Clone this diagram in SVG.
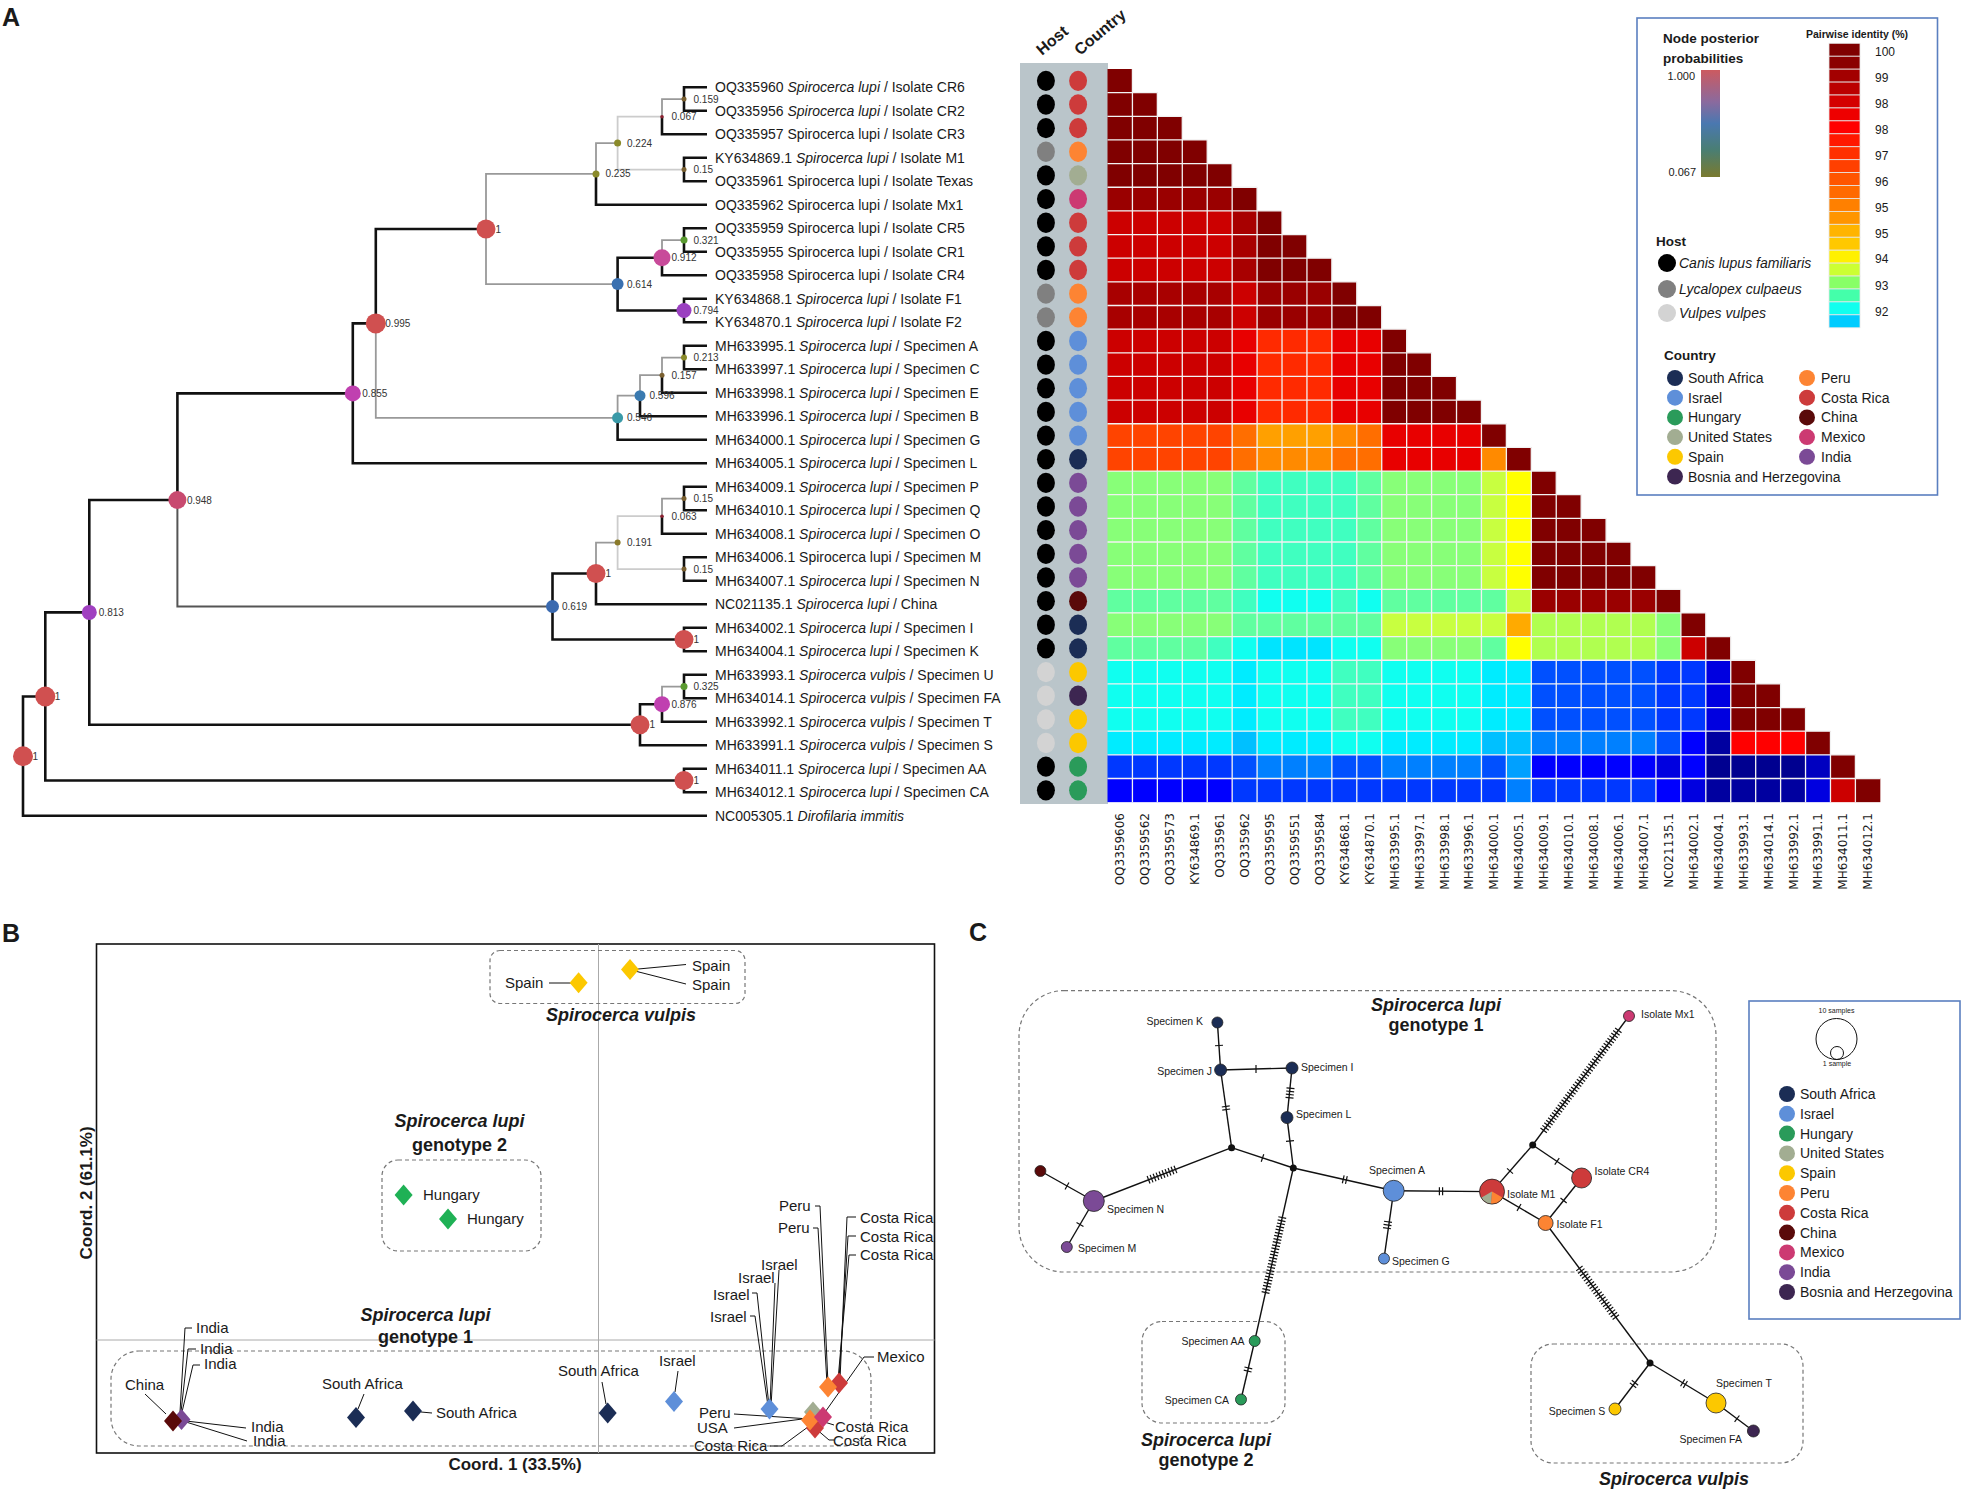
<svg xmlns="http://www.w3.org/2000/svg" width="1969" height="1496" viewBox="0 0 1969 1496">
<defs>
<style>
text{font-family:"Liberation Sans",Arial,sans-serif;fill:#1a1a1a}
.pl{font-size:25px;font-weight:bold}
.lf{font-size:14px}
.it{font-style:italic}
.nl{font-size:10px;fill:#333}
.bk{fill:none;stroke:#111;stroke-width:2.6}
.gy{fill:none;stroke:#999;stroke-width:1.8}
.lg{fill:none;stroke:#ccc;stroke-width:1.8}
.dg{fill:none;stroke:#555;stroke-width:2}
.cl{font-family:"DejaVu Sans",sans-serif;font-size:12px;text-anchor:end}
.hdr{font-size:16px;font-weight:bold}
.grid{fill:none;stroke:#f2f2f2;stroke-width:1.3}
.ha{fill:#800000}.hb{fill:#9a0000}.hc{fill:#a80000}.hd{fill:#cc0000}.he{fill:#e80000}.hf{fill:#ff0000}.hg{fill:#ff2a00}.hh{fill:#ff4400}.hi{fill:#ff6e00}.hj{fill:#ff8a00}.hk{fill:#ffa000}.hl{fill:#ffaa00}.hm{fill:#ffff00}.hn{fill:#c8ff40}.ho{fill:#b0ff50}.hp{fill:#88ff78}.hq{fill:#60ffa0}.hr{fill:#40ffc0}.hs{fill:#10fff0}.ht{fill:#00ecff}.hu{fill:#00c0ff}.hv{fill:#0080ff}.hw{fill:#0050ff}.hx{fill:#0038ff}.hy{fill:#0000ff}.hz{fill:#0000e0}.hN{fill:#0000a0}.hM{fill:#000090}.hZ{fill:#0000c0}
.k0{fill:#000}.k1{fill:#808080}.k2{fill:#d3d3d3}
.cr{fill:#cd3b3b}.pe{fill:#fd8433}.us{fill:#a2ad92}.mx{fill:#cc3a72}.il{fill:#5e8fd9}.za{fill:#1b2d55}.in{fill:#7b4a96}.cn{fill:#5a0a0a}.es{fill:#fcc800}.ba{fill:#3d2651}.hun{fill:#2a9b5a}
.lt{font-size:14px}
.lb{font-size:13.5px;font-weight:bold}
.box{fill:none;stroke:#5a7fc0;stroke-width:1.6}
.dash{fill:none;stroke:#777;stroke-width:1.2;stroke-dasharray:4 3}
.bt{font-size:15px}
.ti{font-size:18px;font-weight:bold;text-anchor:middle}
.ld{fill:none;stroke:#111;stroke-width:1}
.ed{stroke:#111;stroke-width:1.4}
.tk{stroke:#111;stroke-width:8;stroke-dasharray:1.2 2;fill:none}
.nd{stroke:#222;stroke-width:0.8}
.ct{font-size:10.5px}
.ce{font-size:10.5px;text-anchor:end}
</style>
<path id="dm" d="M0,-10.5L9,0L0,10.5L-9,0Z"/>
<linearGradient id="pp" x1="0" y1="0" x2="0" y2="1">
<stop offset="0" stop-color="#cc5a60"/><stop offset="0.3" stop-color="#8a6a9e"/><stop offset="0.5" stop-color="#4a78b0"/><stop offset="0.75" stop-color="#4a7e72"/><stop offset="1" stop-color="#7a7a2e"/>
</linearGradient>
</defs>
<rect width="1969" height="1496" fill="#fff"/>

<!-- ================= PANEL A ================= -->
<text class="pl" x="2" y="26">A</text>

<g id="tree-branches">
<path class="bk" d="M23 756.2V696.5H45.3M23 756.2V815.8H707M45.3 696.5V612.4H89.3M45.3 696.5V780.55H684M684 780.55V768.8H707M684 780.55V792.3H707M89.3 612.4V500H177.4M89.3 612.4V724.7H640M640 724.7V704.2H662M640 724.7V745.3H707M662 704.2V721.8H707M684 686.55V674.8H707M684 686.55V698.3H707M177.4 500V393.4H352.8M552.5 606.5V573.5H596M552.5 606.5V639.55H684M684 639.55V627.8H707M684 639.55V651.3H707M596 573.5V604.3H707M662 516.2V533.8H707M684 498.55V486.8H707M684 498.55V510.3H707M684 569.05V557.3H707M684 569.05V580.8H707M352.8 393.4V323.4H375.8M352.8 393.4V463.3H707M375.8 323.4V229H486M617.6 417.8V439.8H707M640 395.7V416.3H707M662 375.2V392.8H707M684 357.55V345.8H707M684 357.55V369.3H707M596 173.95V204.8H707M662 116.7V134.3H707M684 99.05V87.3H707M684 99.05V110.8H707M684 169.55V157.8H707M684 169.55V181.3H707M617.6 284.1V257.7H662M617.6 284.1V310.55H684M662 257.7V275.3H707M684 240.05V228.3H707M684 240.05V251.8H707M684 310.55V298.8H707M684 310.55V322.3H707"/>
<path class="dg" d="M177.4 500V606.5H552.5"/>
<path class="gy" d="M662 704.2V686.55H684M596 573.5V542.6H617.6M662 516.2V498.55H684M375.8 323.4V417.8H617.6M617.6 417.8V395.7H640M640 395.7V375.2H662M662 375.2V357.55H684M486 229V173.95H596M486 229V284.1H617.6M596 173.95V143.1H617.6M662 116.7V99.05H684M662 257.7V240.05H684"/>
<path class="lg" d="M617.6 542.6V516.2H662M617.6 542.6V569.05H684M617.6 143.1V116.7H662M617.6 143.1V169.55H684"/>
</g>

<g id="tree-nodes">
<circle cx="684" cy="99.05" r="2.5" fill="#7a6030"/><text class="nl" x="693.5" y="102.5">0.159</text>
<circle cx="662" cy="116.7" r="1.8" fill="#8a2030"/><text class="nl" x="671.5" y="120.2">0.067</text>
<circle cx="684" cy="169.55" r="2.5" fill="#7a6030"/><text class="nl" x="693.5" y="173">0.15</text>
<circle cx="617.6" cy="143.1" r="3.5" fill="#8a8a2a"/><text class="nl" x="627" y="146.6">0.224</text>
<circle cx="596" cy="173.95" r="3.5" fill="#8a8a2a"/><text class="nl" x="605.5" y="177.4">0.235</text>
<circle cx="684" cy="240.05" r="3.5" fill="#5a9a30"/><text class="nl" x="693.5" y="243.5">0.321</text>
<circle cx="662" cy="257.7" r="8.5" fill="#c84a9a"/><text class="nl" x="671.5" y="261.2">0.912</text>
<circle cx="684" cy="310.55" r="7.5" fill="#9a40c0"/><text class="nl" x="693.5" y="314">0.794</text>
<circle cx="617.6" cy="284.1" r="6" fill="#3a70b0"/><text class="nl" x="627" y="287.6">0.614</text>
<circle cx="486" cy="229" r="9.5" fill="#d05050"/><text class="nl" x="495.5" y="232.5">1</text>
<circle cx="684" cy="357.55" r="3" fill="#8a8a2a"/><text class="nl" x="693.5" y="361">0.213</text>
<circle cx="662" cy="375.2" r="2.5" fill="#7a6030"/><text class="nl" x="671.5" y="378.7">0.157</text>
<circle cx="640" cy="395.7" r="5.5" fill="#3a7ab0"/><text class="nl" x="649.5" y="399.2">0.596</text>
<circle cx="617.6" cy="417.8" r="5.5" fill="#3a9aa8"/><text class="nl" x="627" y="421.3">0.546</text>
<circle cx="375.8" cy="323.4" r="10" fill="#d05050"/><text class="nl" x="385.3" y="326.9">0.995</text>
<circle cx="352.8" cy="393.4" r="8" fill="#c040b0"/><text class="nl" x="362.3" y="396.9">0.855</text>
<circle cx="684" cy="498.55" r="2.5" fill="#7a6030"/><text class="nl" x="693.5" y="502">0.15</text>
<circle cx="662" cy="516.2" r="1.8" fill="#8a2030"/><text class="nl" x="671.5" y="519.7">0.063</text>
<circle cx="684" cy="569.05" r="2.5" fill="#7a6030"/><text class="nl" x="693.5" y="572.5">0.15</text>
<circle cx="617.6" cy="542.6" r="3" fill="#8a7a2a"/><text class="nl" x="627" y="546.1">0.191</text>
<circle cx="596" cy="573.5" r="9.5" fill="#d05050"/><text class="nl" x="605.5" y="577">1</text>
<circle cx="684" cy="639.55" r="9.5" fill="#d05050"/><text class="nl" x="693.5" y="643">1</text>
<circle cx="552.5" cy="606.5" r="6.5" fill="#3a6ab0"/><text class="nl" x="562" y="610">0.619</text>
<circle cx="177.4" cy="500" r="9" fill="#c84a70"/><text class="nl" x="186.9" y="503.5">0.948</text>
<circle cx="684" cy="686.55" r="3.5" fill="#5a9a30"/><text class="nl" x="693.5" y="690">0.325</text>
<circle cx="662" cy="704.2" r="8" fill="#c040b0"/><text class="nl" x="671.5" y="707.7">0.876</text>
<circle cx="640" cy="724.7" r="9.5" fill="#d05050"/><text class="nl" x="649.5" y="728.2">1</text>
<circle cx="89.3" cy="612.4" r="7.5" fill="#a040c0"/><text class="nl" x="98.8" y="615.9">0.813</text>
<circle cx="684" cy="780.55" r="9.5" fill="#d05050"/><text class="nl" x="693.5" y="784">1</text>
<circle cx="45.3" cy="696.5" r="10" fill="#d05050"/><text class="nl" x="54.8" y="700">1</text>
<circle cx="23" cy="756.2" r="10" fill="#d05050"/><text class="nl" x="32.5" y="759.7">1</text>
</g>

<g id="tree-labels">
<text class="lf" x="715" y="92.3">OQ335960 <tspan class="it">Spirocerca lupi</tspan> / Isolate CR6</text>
<text class="lf" x="715" y="115.8">OQ335956 <tspan class="it">Spirocerca lupi</tspan> / Isolate CR2</text>
<text class="lf" x="715" y="139.3">OQ335957 Spirocerca lupi / Isolate CR3</text>
<text class="lf" x="715" y="162.8">KY634869.1 <tspan class="it">Spirocerca lupi</tspan> / Isolate M1</text>
<text class="lf" x="715" y="186.3">OQ335961 Spirocerca lupi / Isolate Texas</text>
<text class="lf" x="715" y="209.8">OQ335962 Spirocerca lupi / Isolate Mx1</text>
<text class="lf" x="715" y="233.3">OQ335959 Spirocerca lupi / Isolate CR5</text>
<text class="lf" x="715" y="256.8">OQ335955 Spirocerca lupi / Isolate CR1</text>
<text class="lf" x="715" y="280.3">OQ335958 Spirocerca lupi / Isolate CR4</text>
<text class="lf" x="715" y="303.8">KY634868.1 <tspan class="it">Spirocerca lupi</tspan> / Isolate F1</text>
<text class="lf" x="715" y="327.3">KY634870.1 <tspan class="it">Spirocerca lupi</tspan> / Isolate F2</text>
<text class="lf" x="715" y="350.8">MH633995.1 <tspan class="it">Spirocerca lupi</tspan> / Specimen A</text>
<text class="lf" x="715" y="374.3">MH633997.1 <tspan class="it">Spirocerca lupi</tspan> / Specimen C</text>
<text class="lf" x="715" y="397.8">MH633998.1 <tspan class="it">Spirocerca lupi</tspan> / Specimen E</text>
<text class="lf" x="715" y="421.3">MH633996.1 <tspan class="it">Spirocerca lupi</tspan> / Specimen B</text>
<text class="lf" x="715" y="444.8">MH634000.1 <tspan class="it">Spirocerca lupi</tspan> / Specimen G</text>
<text class="lf" x="715" y="468.3">MH634005.1 <tspan class="it">Spirocerca lupi</tspan> / Specimen L</text>
<text class="lf" x="715" y="491.8">MH634009.1 <tspan class="it">Spirocerca lupi</tspan> / Specimen P</text>
<text class="lf" x="715" y="515.3">MH634010.1 <tspan class="it">Spirocerca lupi</tspan> / Specimen Q</text>
<text class="lf" x="715" y="538.8">MH634008.1 <tspan class="it">Spirocerca lupi</tspan> / Specimen O</text>
<text class="lf" x="715" y="562.3">MH634006.1 Spirocerca lupi / Specimen M</text>
<text class="lf" x="715" y="585.8">MH634007.1 <tspan class="it">Spirocerca lupi</tspan> / Specimen N</text>
<text class="lf" x="715" y="609.3">NC021135.1 <tspan class="it">Spirocerca lupi</tspan> / China</text>
<text class="lf" x="715" y="632.8">MH634002.1 <tspan class="it">Spirocerca lupi</tspan> / Specimen I</text>
<text class="lf" x="715" y="656.3">MH634004.1 <tspan class="it">Spirocerca lupi</tspan> / Specimen K</text>
<text class="lf" x="715" y="679.8">MH633993.1 <tspan class="it">Spirocerca vulpis</tspan> / Specimen U</text>
<text class="lf" x="715" y="703.3">MH634014.1 <tspan class="it">Spirocerca vulpis</tspan> / Specimen FA</text>
<text class="lf" x="715" y="726.8">MH633992.1 <tspan class="it">Spirocerca vulpis</tspan> / Specimen T</text>
<text class="lf" x="715" y="750.3">MH633991.1 <tspan class="it">Spirocerca vulpis</tspan> / Specimen S</text>
<text class="lf" x="715" y="773.8">MH634011.1 <tspan class="it">Spirocerca lupi</tspan> / Specimen AA</text>
<text class="lf" x="715" y="797.3">MH634012.1 <tspan class="it">Spirocerca lupi</tspan> / Specimen CA</text>
<text class="lf" x="715" y="820.8">NC005305.1 <tspan class="it">Dirofilaria immitis</tspan></text>
</g>

<g id="host-country">
<rect x="1020" y="63" width="88" height="741" fill="#bac5ca"/>
<text class="hdr" transform="translate(1042,56) rotate(-40)">Host</text>
<text class="hdr" transform="translate(1080,56) rotate(-40)">Country</text>
</g>

<g id="heatmap" transform="translate(1107.5,69) scale(24.93,23.65)">
<g id="host-dots">
<ellipse class="k0" cx="-2.47" cy="0.5" rx=".36" ry=".43"/>
<ellipse class="k0" cx="-2.47" cy="1.5" rx=".36" ry=".43"/>
<ellipse class="k0" cx="-2.47" cy="2.5" rx=".36" ry=".43"/>
<ellipse class="k1" cx="-2.47" cy="3.5" rx=".36" ry=".43"/>
<ellipse class="k0" cx="-2.47" cy="4.5" rx=".36" ry=".43"/>
<ellipse class="k0" cx="-2.47" cy="5.5" rx=".36" ry=".43"/>
<ellipse class="k0" cx="-2.47" cy="6.5" rx=".36" ry=".43"/>
<ellipse class="k0" cx="-2.47" cy="7.5" rx=".36" ry=".43"/>
<ellipse class="k0" cx="-2.47" cy="8.5" rx=".36" ry=".43"/>
<ellipse class="k1" cx="-2.47" cy="9.5" rx=".36" ry=".43"/>
<ellipse class="k1" cx="-2.47" cy="10.5" rx=".36" ry=".43"/>
<ellipse class="k0" cx="-2.47" cy="11.5" rx=".36" ry=".43"/>
<ellipse class="k0" cx="-2.47" cy="12.5" rx=".36" ry=".43"/>
<ellipse class="k0" cx="-2.47" cy="13.5" rx=".36" ry=".43"/>
<ellipse class="k0" cx="-2.47" cy="14.5" rx=".36" ry=".43"/>
<ellipse class="k0" cx="-2.47" cy="15.5" rx=".36" ry=".43"/>
<ellipse class="k0" cx="-2.47" cy="16.5" rx=".36" ry=".43"/>
<ellipse class="k0" cx="-2.47" cy="17.5" rx=".36" ry=".43"/>
<ellipse class="k0" cx="-2.47" cy="18.5" rx=".36" ry=".43"/>
<ellipse class="k0" cx="-2.47" cy="19.5" rx=".36" ry=".43"/>
<ellipse class="k0" cx="-2.47" cy="20.5" rx=".36" ry=".43"/>
<ellipse class="k0" cx="-2.47" cy="21.5" rx=".36" ry=".43"/>
<ellipse class="k0" cx="-2.47" cy="22.5" rx=".36" ry=".43"/>
<ellipse class="k0" cx="-2.47" cy="23.5" rx=".36" ry=".43"/>
<ellipse class="k0" cx="-2.47" cy="24.5" rx=".36" ry=".43"/>
<ellipse class="k2" cx="-2.47" cy="25.5" rx=".36" ry=".43"/>
<ellipse class="k2" cx="-2.47" cy="26.5" rx=".36" ry=".43"/>
<ellipse class="k2" cx="-2.47" cy="27.5" rx=".36" ry=".43"/>
<ellipse class="k2" cx="-2.47" cy="28.5" rx=".36" ry=".43"/>
<ellipse class="k0" cx="-2.47" cy="29.5" rx=".36" ry=".43"/>
<ellipse class="k0" cx="-2.47" cy="30.5" rx=".36" ry=".43"/>
</g>
<g id="country-dots">
<ellipse class="cr" cx="-1.18" cy="0.5" rx=".36" ry=".43"/>
<ellipse class="cr" cx="-1.18" cy="1.5" rx=".36" ry=".43"/>
<ellipse class="cr" cx="-1.18" cy="2.5" rx=".36" ry=".43"/>
<ellipse class="pe" cx="-1.18" cy="3.5" rx=".36" ry=".43"/>
<ellipse class="us" cx="-1.18" cy="4.5" rx=".36" ry=".43"/>
<ellipse class="mx" cx="-1.18" cy="5.5" rx=".36" ry=".43"/>
<ellipse class="cr" cx="-1.18" cy="6.5" rx=".36" ry=".43"/>
<ellipse class="cr" cx="-1.18" cy="7.5" rx=".36" ry=".43"/>
<ellipse class="cr" cx="-1.18" cy="8.5" rx=".36" ry=".43"/>
<ellipse class="pe" cx="-1.18" cy="9.5" rx=".36" ry=".43"/>
<ellipse class="pe" cx="-1.18" cy="10.5" rx=".36" ry=".43"/>
<ellipse class="il" cx="-1.18" cy="11.5" rx=".36" ry=".43"/>
<ellipse class="il" cx="-1.18" cy="12.5" rx=".36" ry=".43"/>
<ellipse class="il" cx="-1.18" cy="13.5" rx=".36" ry=".43"/>
<ellipse class="il" cx="-1.18" cy="14.5" rx=".36" ry=".43"/>
<ellipse class="il" cx="-1.18" cy="15.5" rx=".36" ry=".43"/>
<ellipse class="za" cx="-1.18" cy="16.5" rx=".36" ry=".43"/>
<ellipse class="in" cx="-1.18" cy="17.5" rx=".36" ry=".43"/>
<ellipse class="in" cx="-1.18" cy="18.5" rx=".36" ry=".43"/>
<ellipse class="in" cx="-1.18" cy="19.5" rx=".36" ry=".43"/>
<ellipse class="in" cx="-1.18" cy="20.5" rx=".36" ry=".43"/>
<ellipse class="in" cx="-1.18" cy="21.5" rx=".36" ry=".43"/>
<ellipse class="cn" cx="-1.18" cy="22.5" rx=".36" ry=".43"/>
<ellipse class="za" cx="-1.18" cy="23.5" rx=".36" ry=".43"/>
<ellipse class="za" cx="-1.18" cy="24.5" rx=".36" ry=".43"/>
<ellipse class="es" cx="-1.18" cy="25.5" rx=".36" ry=".43"/>
<ellipse class="ba" cx="-1.18" cy="26.5" rx=".36" ry=".43"/>
<ellipse class="es" cx="-1.18" cy="27.5" rx=".36" ry=".43"/>
<ellipse class="es" cx="-1.18" cy="28.5" rx=".36" ry=".43"/>
<ellipse class="hun" cx="-1.18" cy="29.5" rx=".36" ry=".43"/>
<ellipse class="hun" cx="-1.18" cy="30.5" rx=".36" ry=".43"/>
</g>
<g id="cells">
<rect class="ha" x="0" y="0" width="1" height="1"/>
<rect class="ha" x="0" y="1" width="2" height="1"/>
<rect class="ha" x="0" y="2" width="3" height="1"/>
<rect class="ha" x="0" y="3" width="4" height="1"/>
<rect class="ha" x="0" y="4" width="5" height="1"/>
<rect class="hb" x="0" y="5" width="5" height="1"/><rect class="ha" x="5" y="5" width="1" height="1"/>
<rect class="hd" x="0" y="6" width="5" height="3"/><rect class="hc" x="5" y="6" width="1" height="3"/>
<rect class="ha" x="6" y="6" width="1" height="1"/><rect class="ha" x="6" y="7" width="2" height="1"/><rect class="ha" x="6" y="8" width="3" height="1"/>
<rect class="hc" x="0" y="9" width="5" height="2"/><rect class="hd" x="5" y="9" width="1" height="2"/><rect class="hb" x="6" y="9" width="3" height="2"/>
<rect class="ha" x="9" y="9" width="1" height="1"/><rect class="ha" x="9" y="10" width="2" height="1"/>
<rect class="hd" x="0" y="11" width="5" height="4"/><rect class="he" x="5" y="11" width="1" height="4"/><rect class="hg" x="6" y="11" width="3" height="4"/><rect class="he" x="9" y="11" width="2" height="4"/>
<rect class="ha" x="11" y="11" width="1" height="1"/><rect class="ha" x="11" y="12" width="2" height="1"/><rect class="ha" x="11" y="13" width="3" height="1"/><rect class="ha" x="11" y="14" width="4" height="1"/>
<rect class="hh" x="0" y="15" width="5" height="1"/><rect class="hi" x="5" y="15" width="1" height="1"/><rect class="hk" x="6" y="15" width="3" height="1"/><rect class="hj" x="9" y="15" width="1" height="1"/><rect class="hi" x="10" y="15" width="1" height="1"/><rect class="he" x="11" y="15" width="4" height="1"/><rect class="ha" x="15" y="15" width="1" height="1"/>
<rect class="hh" x="0" y="16" width="5" height="1"/><rect class="hi" x="5" y="16" width="1" height="1"/><rect class="hj" x="6" y="16" width="3" height="1"/><rect class="hi" x="9" y="16" width="2" height="1"/><rect class="he" x="11" y="16" width="4" height="1"/><rect class="hj" x="15" y="16" width="1" height="1"/><rect class="ha" x="16" y="16" width="1" height="1"/>
<rect class="hp" x="0" y="17" width="5" height="5"/><rect class="hq" x="5" y="17" width="1" height="5"/><rect class="hr" x="6" y="17" width="4" height="5"/><rect class="hq" x="10" y="17" width="1" height="5"/><rect class="hp" x="11" y="17" width="4" height="5"/><rect class="hn" x="15" y="17" width="1" height="5"/><rect class="hm" x="16" y="17" width="1" height="5"/>
<rect class="ha" x="17" y="17" width="1" height="1"/><rect class="ha" x="17" y="18" width="2" height="1"/><rect class="ha" x="17" y="19" width="3" height="1"/><rect class="ha" x="17" y="20" width="4" height="1"/><rect class="ha" x="17" y="21" width="5" height="1"/>
<rect class="hq" x="0" y="22" width="5" height="1"/><rect class="hr" x="5" y="22" width="1" height="1"/><rect class="hs" x="6" y="22" width="3" height="1"/><rect class="hr" x="9" y="22" width="1" height="1"/><rect class="hs" x="10" y="22" width="1" height="1"/><rect class="hq" x="11" y="22" width="5" height="1"/><rect class="hn" x="16" y="22" width="1" height="1"/><rect class="hb" x="17" y="22" width="5" height="1"/><rect class="ha" x="22" y="22" width="1" height="1"/>
<rect class="hp" x="0" y="23" width="5" height="1"/><rect class="hq" x="5" y="23" width="6" height="1"/><rect class="hn" x="11" y="23" width="5" height="1"/><rect class="hl" x="16" y="23" width="1" height="1"/><rect class="ho" x="17" y="23" width="5" height="1"/><rect class="hp" x="22" y="23" width="1" height="1"/><rect class="ha" x="23" y="23" width="1" height="1"/>
<rect class="hq" x="0" y="24" width="4" height="1"/><rect class="hr" x="4" y="24" width="1" height="1"/><rect class="hs" x="5" y="24" width="1" height="1"/><rect class="hu" x="6" y="24" width="3" height="1" style="fill:#00e4ff"/><rect class="hs" x="9" y="24" width="2" height="1"/><rect class="hp" x="11" y="24" width="4" height="1"/><rect class="hq" x="15" y="24" width="1" height="1"/><rect class="hm" x="16" y="24" width="1" height="1"/><rect class="ho" x="17" y="24" width="5" height="1"/><rect class="hp" x="22" y="24" width="1" height="1"/><rect class="hd" x="23" y="24" width="1" height="1"/><rect class="ha" x="24" y="24" width="1" height="1"/>
<rect class="hs" x="0" y="25" width="5" height="3"/><rect class="ht" x="5" y="25" width="1" height="3"/><rect class="hs" x="6" y="25" width="3" height="3"/><rect class="hr" x="9" y="25" width="2" height="3"/><rect class="hs" x="11" y="25" width="4" height="3"/><rect class="ht" x="15" y="25" width="2" height="3"/><rect class="hw" x="17" y="25" width="5" height="3"/><rect class="hx" x="22" y="25" width="2" height="3"/><rect class="hz" x="24" y="25" width="1" height="3"/>
<rect class="ha" x="25" y="25" width="1" height="1"/><rect class="ha" x="25" y="26" width="2" height="1"/><rect class="ha" x="25" y="27" width="3" height="1"/>
<rect class="ht" x="0" y="28" width="5" height="1"/><rect class="hu" x="5" y="28" width="1" height="1"/><rect class="ht" x="6" y="28" width="3" height="1"/><rect class="hs" x="9" y="28" width="2" height="1"/><rect class="ht" x="11" y="28" width="4" height="1"/><rect class="hu" x="15" y="28" width="2" height="1"/><rect class="hv" x="17" y="28" width="5" height="1"/><rect class="hw" x="22" y="28" width="1" height="1"/><rect class="hy" x="23" y="28" width="1" height="1"/><rect class="hN" x="24" y="28" width="1" height="1"/><rect class="hf" x="25" y="28" width="3" height="1"/><rect class="ha" x="28" y="28" width="1" height="1"/>
<rect class="hx" x="0" y="29" width="5" height="1"/><rect class="hw" x="5" y="29" width="1" height="1"/><rect class="hv" x="6" y="29" width="3" height="1"/><rect class="hw" x="9" y="29" width="2" height="1"/><rect class="hv" x="11" y="29" width="4" height="1"/><rect class="hw" x="15" y="29" width="1" height="1"/><rect class="hu" x="16" y="29" width="1" height="1" style="fill:#00a0ff"/><rect class="hy" x="17" y="29" width="5" height="1"/><rect class="hz" x="22" y="29" width="1" height="1"/><rect class="hy" x="23" y="29" width="1" height="1"/><rect class="hM" x="24" y="29" width="4" height="1"/><rect class="hZ" x="28" y="29" width="1" height="1"/><rect class="ha" x="29" y="29" width="1" height="1"/>
<rect class="hy" x="0" y="30" width="5" height="1"/><rect class="hx" x="5" y="30" width="11" height="1"/><rect class="hv" x="16" y="30" width="1" height="1"/><rect class="hx" x="17" y="30" width="5" height="1"/><rect class="hy" x="22" y="30" width="1" height="1"/><rect class="hz" x="23" y="30" width="1" height="1"/><rect class="hN" x="24" y="30" width="4" height="1"/><rect class="hz" x="28" y="30" width="1" height="1"/><rect class="hd" x="29" y="30" width="1" height="1"/><rect class="ha" x="30" y="30" width="1" height="1"/>
</g>
<path class="grid" vector-effect="non-scaling-stroke" d="M1 0V31M2 1V31M3 2V31M4 3V31M5 4V31M6 5V31M7 6V31M8 7V31M9 8V31M10 9V31M11 10V31M12 11V31M13 12V31M14 13V31M15 14V31M16 15V31M17 16V31M18 17V31M19 18V31M20 19V31M21 20V31M22 21V31M23 22V31M24 23V31M25 24V31M26 25V31M27 26V31M28 27V31M29 28V31M30 29V31M0 1H2M0 2H3M0 3H4M0 4H5M0 5H6M0 6H7M0 7H8M0 8H9M0 9H10M0 10H11M0 11H12M0 12H13M0 13H14M0 14H15M0 15H16M0 16H17M0 17H18M0 18H19M0 19H20M0 20H21M0 21H22M0 22H23M0 23H24M0 24H25M0 25H26M0 26H27M0 27H28M0 28H29M0 29H30M0 30H31"/>
</g>

<g id="column-labels">
<text class="cl" transform="translate(1124.4,813) rotate(-90)">OQ3359606</text>
<text class="cl" transform="translate(1149.3,813) rotate(-90)">OQ3359562</text>
<text class="cl" transform="translate(1174.3,813) rotate(-90)">OQ3359573</text>
<text class="cl" transform="translate(1199.2,813) rotate(-90)">KY634869.1</text>
<text class="cl" transform="translate(1224.1,813) rotate(-90)">OQ335961</text>
<text class="cl" transform="translate(1249.1,813) rotate(-90)">OQ335962</text>
<text class="cl" transform="translate(1274,813) rotate(-90)">OQ3359595</text>
<text class="cl" transform="translate(1298.9,813) rotate(-90)">OQ3359551</text>
<text class="cl" transform="translate(1323.8,813) rotate(-90)">OQ3359584</text>
<text class="cl" transform="translate(1348.8,813) rotate(-90)">KY634868.1</text>
<text class="cl" transform="translate(1373.7,813) rotate(-90)">KY634870.1</text>
<text class="cl" transform="translate(1398.6,813) rotate(-90)">MH633995.1</text>
<text class="cl" transform="translate(1423.6,813) rotate(-90)">MH633997.1</text>
<text class="cl" transform="translate(1448.5,813) rotate(-90)">MH633998.1</text>
<text class="cl" transform="translate(1473.4,813) rotate(-90)">MH633996.1</text>
<text class="cl" transform="translate(1498.4,813) rotate(-90)">MH634000.1</text>
<text class="cl" transform="translate(1523.3,813) rotate(-90)">MH634005.1</text>
<text class="cl" transform="translate(1548.2,813) rotate(-90)">MH634009.1</text>
<text class="cl" transform="translate(1573.1,813) rotate(-90)">MH634010.1</text>
<text class="cl" transform="translate(1598.1,813) rotate(-90)">MH634008.1</text>
<text class="cl" transform="translate(1623,813) rotate(-90)">MH634006.1</text>
<text class="cl" transform="translate(1647.9,813) rotate(-90)">MH634007.1</text>
<text class="cl" transform="translate(1672.9,813) rotate(-90)">NC021135.1</text>
<text class="cl" transform="translate(1697.8,813) rotate(-90)">MH634002.1</text>
<text class="cl" transform="translate(1722.7,813) rotate(-90)">MH634004.1</text>
<text class="cl" transform="translate(1747.7,813) rotate(-90)">MH633993.1</text>
<text class="cl" transform="translate(1772.6,813) rotate(-90)">MH634014.1</text>
<text class="cl" transform="translate(1797.5,813) rotate(-90)">MH633992.1</text>
<text class="cl" transform="translate(1822.4,813) rotate(-90)">MH633991.1</text>
<text class="cl" transform="translate(1847.4,813) rotate(-90)">MH634011.1</text>
<text class="cl" transform="translate(1872.3,813) rotate(-90)">MH634012.1</text>
</g>

<g id="legendA">
<rect class="box" x="1637" y="18" width="300.5" height="477"/>
<text class="lb" x="1663" y="43">Node posterior</text>
<text class="lb" x="1663" y="63">probabilities</text>
<rect x="1701" y="70" width="19" height="107" fill="url(#pp)"/>
<text x="1695" y="80" font-size="11" text-anchor="end">1.000</text>
<text x="1696" y="176" font-size="11" text-anchor="end">0.067</text>
<text x="1806" y="38" font-size="10.5" font-weight="bold">Pairwise identity (%)</text>
<g stroke="#e6e6e6" stroke-width="0.8">
<rect x="1829" y="43.3" width="31" height="12.93" fill="#800000"/>
<rect x="1829" y="56.23" width="31" height="12.93" fill="#8b0000"/>
<rect x="1829" y="69.16" width="31" height="12.93" fill="#a30000"/>
<rect x="1829" y="82.09" width="31" height="12.93" fill="#bb0000"/>
<rect x="1829" y="95.02" width="31" height="12.93" fill="#d40000"/>
<rect x="1829" y="107.95" width="31" height="12.93" fill="#ee0000"/>
<rect x="1829" y="120.88" width="31" height="12.93" fill="#ff0000"/>
<rect x="1829" y="133.81" width="31" height="12.93" fill="#ff1800"/>
<rect x="1829" y="146.74" width="31" height="12.93" fill="#ff3000"/>
<rect x="1829" y="159.67" width="31" height="12.93" fill="#ff4000"/>
<rect x="1829" y="172.6" width="31" height="12.93" fill="#ff5500"/>
<rect x="1829" y="185.53" width="31" height="12.93" fill="#ff6a00"/>
<rect x="1829" y="198.46" width="31" height="12.93" fill="#ff8000"/>
<rect x="1829" y="211.39" width="31" height="12.93" fill="#ff9500"/>
<rect x="1829" y="224.32" width="31" height="12.93" fill="#ffb400"/>
<rect x="1829" y="237.25" width="31" height="12.93" fill="#ffc800"/>
<rect x="1829" y="250.18" width="31" height="12.93" fill="#fff000"/>
<rect x="1829" y="263.11" width="31" height="12.93" fill="#ccff33"/>
<rect x="1829" y="276.04" width="31" height="12.93" fill="#88ff66"/>
<rect x="1829" y="288.97" width="31" height="12.93" fill="#44ffaa"/>
<rect x="1829" y="301.9" width="31" height="12.93" fill="#11ffee"/>
<rect x="1829" y="314.83" width="31" height="12.93" fill="#00ccff"/>
</g>
<g font-size="12">
<text x="1875" y="56">100</text><text x="1875" y="82">99</text><text x="1875" y="108">98</text><text x="1875" y="134">98</text><text x="1875" y="160">97</text><text x="1875" y="186">96</text><text x="1875" y="212">95</text><text x="1875" y="238">95</text><text x="1875" y="263">94</text><text x="1875" y="290">93</text><text x="1875" y="316">92</text>
</g>
<text class="lb" x="1656" y="246">Host</text>
<circle class="k0" cx="1667" cy="263" r="9"/><text class="lt it" x="1679" y="268">Canis lupus familiaris</text>
<circle class="k1" cx="1667" cy="289" r="9"/><text class="lt it" x="1679" y="294">Lycalopex culpaeus</text>
<circle class="k2" cx="1667" cy="313" r="9"/><text class="lt it" x="1679" y="318">Vulpes vulpes</text>
<text class="lb" x="1664" y="360">Country</text>
<circle class="za" cx="1675" cy="378" r="8"/><text class="lt" x="1688" y="383">South Africa</text>
<circle class="il" cx="1675" cy="397.7" r="8"/><text class="lt" x="1688" y="402.7">Israel</text>
<circle class="hun" cx="1675" cy="417.4" r="8"/><text class="lt" x="1688" y="422.4">Hungary</text>
<circle class="us" cx="1675" cy="437.1" r="8"/><text class="lt" x="1688" y="442.1">United States</text>
<circle class="es" cx="1675" cy="456.8" r="8"/><text class="lt" x="1688" y="461.8">Spain</text>
<circle class="ba" cx="1675" cy="476.5" r="8"/><text class="lt" x="1688" y="481.5">Bosnia and Herzegovina</text>
<circle class="pe" cx="1807" cy="378" r="8"/><text class="lt" x="1821" y="383">Peru</text>
<circle class="cr" cx="1807" cy="397.7" r="8"/><text class="lt" x="1821" y="402.7">Costa Rica</text>
<circle class="cn" cx="1807" cy="417.4" r="8"/><text class="lt" x="1821" y="422.4">China</text>
<circle class="mx" cx="1807" cy="437.1" r="8"/><text class="lt" x="1821" y="442.1">Mexico</text>
<circle class="in" cx="1807" cy="456.8" r="8"/><text class="lt" x="1821" y="461.8">India</text>
</g>

<!-- ================= PANEL B ================= -->
<text class="pl" x="2" y="942">B</text>
<g id="panelB">
<rect x="96.5" y="944" width="838" height="509" fill="none" stroke="#111" stroke-width="1.6"/>
<line x1="598.5" y1="944" x2="598.5" y2="1453" stroke="#aaa" stroke-width="1"/>
<line x1="96.5" y1="1340" x2="934.5" y2="1340" stroke="#aaa" stroke-width="1"/>
<rect class="dash" x="490" y="950.5" width="255" height="53" rx="10"/>
<rect class="dash" x="382" y="1160" width="159" height="91" rx="16"/>
<rect class="dash" x="111" y="1351" width="760" height="95" rx="28"/>
<text class="ti it" x="621" y="1021">Spirocerca vulpis</text>
<text class="ti it" x="459.6" y="1127">Spirocerca lupi</text>
<text class="ti" x="459.6" y="1151">genotype 2</text>
<text class="ti it" x="425.6" y="1321">Spirocerca lupi</text>
<text class="ti" x="425.6" y="1343">genotype 1</text>
<text x="515" y="1470" font-size="17" font-weight="bold" text-anchor="middle">Coord. 1 (33.5%)</text>
<text transform="translate(92,1193) rotate(-90)" font-size="17" font-weight="bold" text-anchor="middle">Coord. 2 (61.1%)</text>
<path class="ld" d="M549 983H572M686 964.5L633 969.5M686 984L633 970.5M145 1394L166 1414M192 1328H185L180 1412M196 1349H188L181 1412M200 1365H193L182 1412M186 1421L246 1428M186 1422L247 1441M364 1394L358 1409M421 1412L432 1413M602 1382L606 1404M678 1371L675 1392M779 1270L771 1406M775 1283L770 1406M752 1293H757L769 1406M750 1316H755L768 1406M815 1206H820L828 1384M813 1228H818L827 1384M856 1217H847L840 1380M856 1236H848L839 1380M856 1255H849L838 1380M874 1357H864L823 1415M734 1414L810 1419M734 1428L810 1418M770 1446H782L812 1424M834 1425L818 1420M834 1440H829L815 1428"/>
<g id="pcoa-points">
<use href="#dm" x="578.6" y="982.7" class="es"/>
<use href="#dm" x="630" y="969.5" class="es"/>
<use href="#dm" x="403.6" y="1195" fill="#1fb155"/>
<use href="#dm" x="448" y="1219" fill="#1fb155"/>
<use href="#dm" x="181.5" y="1419.4" class="in"/>
<use href="#dm" x="173" y="1421" class="cn"/>
<use href="#dm" x="356" y="1417.6" class="za"/>
<use href="#dm" x="413" y="1411" class="za"/>
<use href="#dm" x="607.7" y="1413" class="za"/>
<use href="#dm" x="674" y="1401.5" class="il"/>
<use href="#dm" x="769.5" y="1409" class="il"/>
<use href="#dm" x="839" y="1383" class="cr"/>
<use href="#dm" x="828" y="1387" class="pe"/>
<use href="#dm" x="813" y="1412" class="us"/>
<use href="#dm" x="815" y="1428" class="cr"/>
<use href="#dm" x="810" y="1420" class="pe"/>
<use href="#dm" x="823" y="1417" class="mx"/>
</g>
<g>
<text class="bt" x="505" y="988">Spain</text>
<text class="bt" x="692" y="971">Spain</text>
<text class="bt" x="692" y="990">Spain</text>
<text class="bt" x="423" y="1200">Hungary</text>
<text class="bt" x="467" y="1224">Hungary</text>
<text class="bt" x="125" y="1390">China</text>
<text class="bt" x="196" y="1333">India</text>
<text class="bt" x="200" y="1354">India</text>
<text class="bt" x="204" y="1369">India</text>
<text class="bt" x="251" y="1432">India</text>
<text class="bt" x="253" y="1446">India</text>
<text class="bt" x="322" y="1389">South Africa</text>
<text class="bt" x="436" y="1418">South Africa</text>
<text class="bt" x="558" y="1376">South Africa</text>
<text class="bt" x="659" y="1366">Israel</text>
<text class="bt" x="761" y="1270">Israel</text>
<text class="bt" x="738" y="1283">Israel</text>
<text class="bt" x="713" y="1300">Israel</text>
<text class="bt" x="710" y="1322">Israel</text>
<text class="bt" x="779" y="1211">Peru</text>
<text class="bt" x="778" y="1233">Peru</text>
<text class="bt" x="860" y="1223">Costa Rica</text>
<text class="bt" x="860" y="1242">Costa Rica</text>
<text class="bt" x="860" y="1260">Costa Rica</text>
<text class="bt" x="877" y="1362">Mexico</text>
<text class="bt" x="699" y="1418">Peru</text>
<text class="bt" x="697" y="1433">USA</text>
<text class="bt" x="694" y="1451">Costa Rica</text>
<text class="bt" x="835" y="1432">Costa Rica</text>
<text class="bt" x="833" y="1446">Costa Rica</text>
</g>
</g>

<!-- ================= PANEL C ================= -->
<text class="pl" x="969" y="941">C</text>
<g id="panelC">
<rect class="dash" x="1019" y="990.6" width="697" height="281.4" rx="45"/>
<rect class="dash" x="1142" y="1321.5" width="143" height="101.5" rx="20"/>
<rect class="dash" x="1531" y="1344" width="272" height="119" rx="22"/>
<text class="ti it" x="1436" y="1010.5">Spirocerca lupi</text>
<text class="ti" x="1436" y="1031">genotype 1</text>
<text class="ti it" x="1206" y="1446">Spirocerca lupi</text>
<text class="ti" x="1206" y="1466">genotype 2</text>
<text class="ti it" x="1674" y="1485">Spirocerca vulpis</text>
<g id="network-edges">
<line class="ed" x1="1217.4" y1="1022.5" x2="1220.6" y2="1070"/>
<line class="ed" x1="1220.6" y1="1070" x2="1292" y2="1068" stroke-width="2.6"/>
<line class="ed" x1="1292" y1="1068" x2="1287" y2="1117.6"/>
<line class="ed" x1="1220.6" y1="1070" x2="1231.6" y2="1147.7"/>
<line class="ed" x1="1287" y1="1117.6" x2="1293.3" y2="1168"/>
<line class="ed" x1="1231.6" y1="1147.7" x2="1293.3" y2="1168"/>
<line class="ed" x1="1231.6" y1="1147.7" x2="1093.8" y2="1201"/>
<line class="ed" x1="1040.4" y1="1171" x2="1093.8" y2="1201"/>
<line class="ed" x1="1093.8" y1="1201" x2="1066.8" y2="1247"/>
<line class="ed" x1="1293.3" y1="1168" x2="1393.7" y2="1190.8"/>
<line class="ed" x1="1393.7" y1="1190.8" x2="1384" y2="1258.6"/>
<line class="ed" x1="1293.3" y1="1168" x2="1254.7" y2="1341"/>
<line class="ed" x1="1254.7" y1="1341" x2="1241" y2="1399.5"/>
<line class="ed" x1="1393.7" y1="1190.8" x2="1492" y2="1191.6" stroke-width="2.6"/>
<line class="ed" x1="1492" y1="1191.6" x2="1532.7" y2="1145"/>
<line class="ed" x1="1532.7" y1="1145" x2="1629" y2="1016"/>
<line class="ed" x1="1532.7" y1="1145" x2="1581.6" y2="1178"/>
<line class="ed" x1="1581.6" y1="1178" x2="1545.6" y2="1223"/>
<line class="ed" x1="1492" y1="1191.6" x2="1545.6" y2="1223"/>
<line class="ed" x1="1545.6" y1="1223" x2="1650" y2="1363"/>
<line class="ed" x1="1650" y1="1363" x2="1615" y2="1409"/>
<line class="ed" x1="1650" y1="1363" x2="1716" y2="1403"/>
<line class="ed" x1="1716" y1="1403" x2="1753.4" y2="1431"/>
</g>
<g id="mutation-ticks">
<path class="tk" d="M1219.04 1046.1L1218.96 1044.9"/>
<path class="tk" d="M1255.4 1069L1256.6 1069"/>
<path class="tk" d="M1290.54 1087.63L1289.46 1098.37" stroke="#777"/>
<path class="tk" d="M1225.69 1105.82L1226.31 1110.18"/>
<path class="tk" d="M1289.93 1140.4L1290.07 1141.6"/>
<path class="tk" d="M1261.93 1157.81L1263.07 1158.19"/>
<path class="tk" d="M1176 1169.2L1148 1180"/>
<path class="tk" d="M1066.48 1185.71L1067.52 1186.29"/>
<path class="tk" d="M1080.3 1223.98L1079.7 1225.02"/>
<path class="tk" d="M1342.66 1179.21L1346.95 1180.19"/>
<path class="tk" d="M1388.04 1221.24L1386.96 1228.76"/>
<path class="tk" d="M1282.4 1217L1265 1295"/>
<path class="tk" d="M1248.5 1367.36L1247.5 1371.64"/>
<path class="tk" d="M1438.8 1191.2L1443.2 1191.2"/>
<path class="tk" d="M1509.6 1171.45L1510.4 1170.55"/>
<path class="tk" d="M1543.3 1130.8L1618.7 1029.8"/>
<path class="tk" d="M1556.5 1161.06L1557.5 1161.74"/>
<path class="tk" d="M1563.98 1200.03L1563.22 1200.97"/>
<path class="tk" d="M1518.48 1207.1L1519.52 1207.7"/>
<path class="tk" d="M1579 1268L1617.2 1319"/>
<path class="tk" d="M1635.33 1382.25L1632.67 1385.75"/>
<path class="tk" d="M1682.12 1382.46L1685.88 1384.74"/>
<path class="tk" d="M1736.52 1418.34L1737.48 1419.06"/>
</g>
<g id="network-nodes">
<circle cx="1231.6" cy="1147.7" r="3.5" fill="#111"/>
<circle cx="1293.3" cy="1168" r="3.5" fill="#111"/>
<circle cx="1532.7" cy="1145" r="3.5" fill="#111"/>
<circle cx="1650" cy="1363" r="3.5" fill="#111"/>
<circle class="za nd" cx="1217.4" cy="1022.5" r="5.5"/>
<circle class="za nd" cx="1220.6" cy="1070" r="6"/>
<circle class="za nd" cx="1292" cy="1068" r="6"/>
<circle class="za nd" cx="1287" cy="1117.6" r="6"/>
<circle class="in nd" cx="1093.8" cy="1201" r="10.5"/>
<circle class="cn nd" cx="1040.4" cy="1171" r="5.5"/>
<circle class="in nd" cx="1066.8" cy="1247" r="5.5"/>
<circle class="il nd" cx="1393.7" cy="1190.8" r="10.5"/>
<circle class="il nd" cx="1384" cy="1258.6" r="5.5"/>
<circle class="hun nd" cx="1254.7" cy="1341" r="5.5"/>
<circle class="hun nd" cx="1241" cy="1399.5" r="5.5"/>
<g id="M1">
<circle class="cr" cx="1492" cy="1191.6" r="12.5"/>
<path class="pe" d="M1492 1191.6L1502.83 1197.85A12.5 12.5 0 0 1 1490.91 1204.05Z"/>
<path class="us" d="M1492 1191.6L1490.91 1204.05A12.5 12.5 0 0 1 1481.17 1197.85Z"/>
<circle cx="1492" cy="1191.6" r="12.5" fill="none" stroke="#222" stroke-width="0.8"/>
</g>
<circle class="mx nd" cx="1629" cy="1016" r="5.5"/>
<circle class="cr nd" cx="1581.6" cy="1178" r="10"/>
<circle class="pe nd" cx="1545.6" cy="1223" r="7.5"/>
<circle class="es nd" cx="1615" cy="1409" r="6"/>
<circle class="es nd" cx="1716" cy="1403" r="10"/>
<circle class="ba nd" cx="1753.4" cy="1431" r="6"/>
</g>
<g id="network-labels">
<text class="ce" x="1203" y="1024.5">Specimen K</text>
<text class="ce" x="1212" y="1074.5">Specimen J</text>
<text class="ct" x="1301" y="1070.5">Specimen I</text>
<text class="ct" x="1296" y="1117.5">Specimen L</text>
<text class="ct" x="1107" y="1212.5">Specimen N</text>
<text class="ct" x="1078" y="1251.5">Specimen M</text>
<text class="ct" x="1369" y="1174">Specimen A</text>
<text class="ct" x="1392" y="1264.5">Specimen G</text>
<text class="ce" x="1244.5" y="1344.5">Specimen AA</text>
<text class="ce" x="1229" y="1403.5">Specimen CA</text>
<text class="ct" x="1507" y="1197.5">Isolate M1</text>
<text class="ct" x="1641" y="1017.5">Isolate Mx1</text>
<text class="ct" x="1594.5" y="1174.5">Isolate CR4</text>
<text class="ct" x="1556.5" y="1228">Isolate F1</text>
<text class="ce" x="1605.4" y="1415">Specimen S</text>
<text class="ct" x="1716" y="1386.5">Specimen T</text>
<text class="ct" x="1679.5" y="1442.5">Specimen FA</text>
</g>
<g id="legendC">
<rect class="box" x="1749" y="1001" width="211" height="318"/>
<text x="1836.5" y="1013" font-size="7" text-anchor="middle">10 samples</text>
<circle cx="1836.5" cy="1039" r="20.5" fill="none" stroke="#111" stroke-width="1"/>
<circle cx="1837" cy="1053" r="6.5" fill="none" stroke="#111" stroke-width="1"/>
<text x="1837" y="1066" font-size="7" text-anchor="middle">1 sample</text>
<circle class="za" cx="1787" cy="1094" r="8"/><text class="lt" x="1800" y="1099">South Africa</text>
<circle class="il" cx="1787" cy="1113.8" r="8"/><text class="lt" x="1800" y="1118.8">Israel</text>
<circle class="hun" cx="1787" cy="1133.6" r="8"/><text class="lt" x="1800" y="1138.6">Hungary</text>
<circle class="us" cx="1787" cy="1153.4" r="8"/><text class="lt" x="1800" y="1158.4">United States</text>
<circle class="es" cx="1787" cy="1173.2" r="8"/><text class="lt" x="1800" y="1178.2">Spain</text>
<circle class="pe" cx="1787" cy="1193" r="8"/><text class="lt" x="1800" y="1198">Peru</text>
<circle class="cr" cx="1787" cy="1212.8" r="8"/><text class="lt" x="1800" y="1217.8">Costa Rica</text>
<circle class="cn" cx="1787" cy="1232.6" r="8"/><text class="lt" x="1800" y="1237.6">China</text>
<circle class="mx" cx="1787" cy="1252.4" r="8"/><text class="lt" x="1800" y="1257.4">Mexico</text>
<circle class="in" cx="1787" cy="1272.2" r="8"/><text class="lt" x="1800" y="1277.2">India</text>
<circle class="ba" cx="1787" cy="1292" r="8"/><text class="lt" x="1800" y="1297">Bosnia and Herzegovina</text>
</g>
</g>
</svg>
